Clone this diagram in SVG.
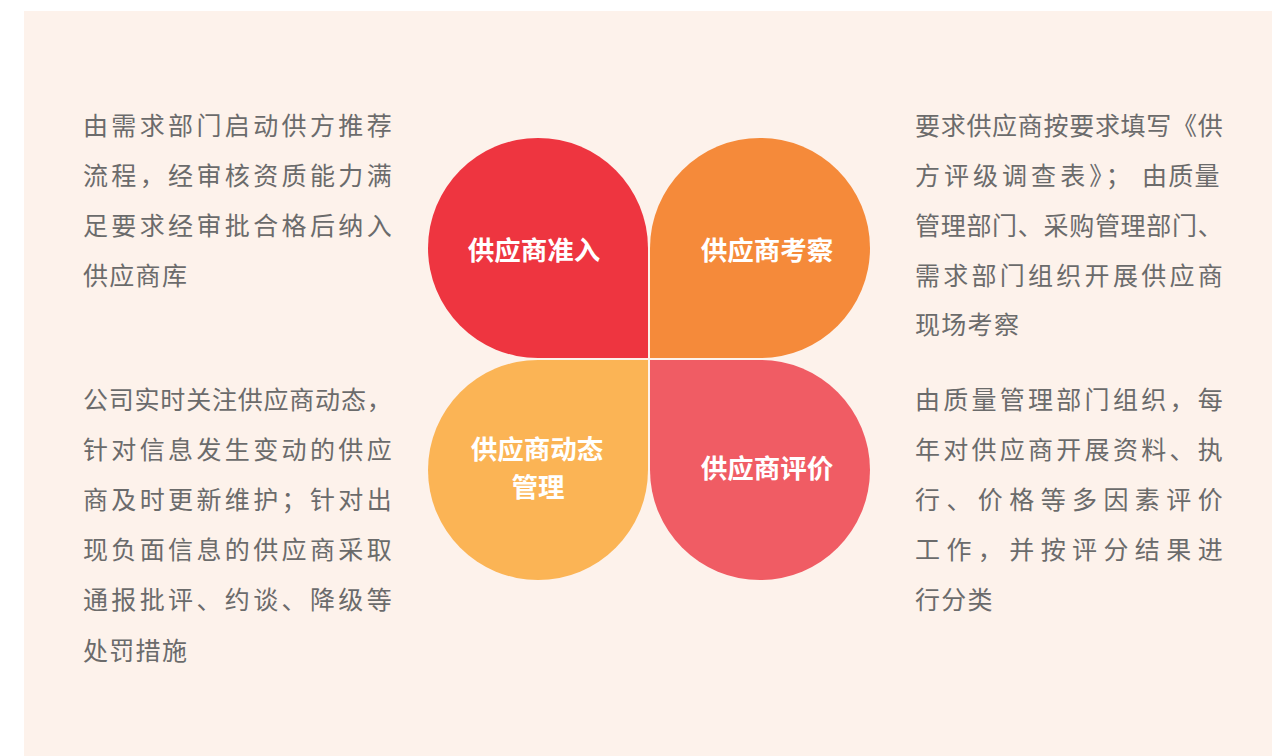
<svg xmlns="http://www.w3.org/2000/svg" width="1287" height="756" viewBox="0 0 1287 756">
<style>
.body{font-family:"Noto Sans CJK SC","Noto Sans",sans-serif;font-size:25px;fill:#6b6b6b;letter-spacing:1.3px}
.lbl{font-family:"Noto Sans CJK SC","Noto Sans",sans-serif;font-size:26.5px;font-weight:bold;fill:#ffffff;text-anchor:middle;dominant-baseline:central}
</style>
<rect x="0" y="0" width="1287" height="756" fill="#ffffff"/>
<rect x="24" y="11" width="1248" height="745" fill="#fdf2eb"/>
<g id="connectors"></g>
<g id="node-entry">
<path d="M648 358 L538 358 A110 110 0 1 1 648 248 Z" fill="#ee3540"/>
<text class="lbl" x="534" y="248">供应商准入</text>
</g>
<g id="node-inspect">
<path d="M650 358 L650 248 A110 110 0 1 1 760 358 Z" fill="#f58a3a"/>
<text class="lbl" x="767" y="248">供应商考察</text>
</g>
<g id="node-dynamic">
<path d="M648 360 L648 470 A110 110 0 1 1 538 360 Z" fill="#fbb455"/>
<text class="lbl" x="537" y="447">供应商动态</text>
<text class="lbl" x="538" y="485">管理</text>
</g>
<g id="node-evaluate">
<path d="M650 360 L760 360 A110 110 0 1 1 650 470 Z" fill="#f05c64"/>
<text class="lbl" x="767" y="466">供应商评价</text>
</g>
<g id="text-entry">
<text class="body" x="83" y="135" textLength="310" lengthAdjust="spacing">由需求部门启动供方推荐</text>
<text class="body" x="83" y="185" textLength="310" lengthAdjust="spacing">流程，经审核资质能力满</text>
<text class="body" x="83" y="235" textLength="310" lengthAdjust="spacing">足要求经审批合格后纳入</text>
<text class="body" x="83" y="285">供应商库</text>
</g>
<g id="text-dynamic">
<text class="body" x="83" y="409" textLength="310" lengthAdjust="spacing">公司实时关注供应商动态，</text>
<text class="body" x="83" y="459" textLength="310" lengthAdjust="spacing">针对信息发生变动的供应</text>
<text class="body" x="83" y="509" textLength="310" lengthAdjust="spacing">商及时更新维护；针对出</text>
<text class="body" x="83" y="559" textLength="310" lengthAdjust="spacing">现负面信息的供应商采取</text>
<text class="body" x="83" y="609" textLength="310" lengthAdjust="spacing">通报批评、约谈、降级等</text>
<text class="body" x="83" y="660">处罚措施</text>
</g>
<g id="text-inspect">
<text class="body" x="915" y="135" textLength="309" lengthAdjust="spacing">要求供应商按要求填写《供</text>
<text class="body" x="915" y="185" textLength="217" lengthAdjust="spacing">方评级调查表》；</text>
<text class="body" x="1142" y="185">由质量</text>
<text class="body" x="915" y="235" textLength="309" lengthAdjust="spacing">管理部门、采购管理部门、</text>
<text class="body" x="915" y="285" textLength="309" lengthAdjust="spacing">需求部门组织开展供应商</text>
<text class="body" x="915" y="334">现场考察</text>
</g>
<g id="text-evaluate">
<text class="body" x="915" y="409" textLength="309" lengthAdjust="spacing">由质量管理部门组织，每</text>
<text class="body" x="915" y="459" textLength="309" lengthAdjust="spacing">年对供应商开展资料、执</text>
<text class="body" x="915" y="509" textLength="309" lengthAdjust="spacing">行、价格等多因素评价</text>
<text class="body" x="915" y="559" textLength="309" lengthAdjust="spacing">工作，并按评分结果进</text>
<text class="body" x="915" y="609">行分类</text>
</g>
</svg>
